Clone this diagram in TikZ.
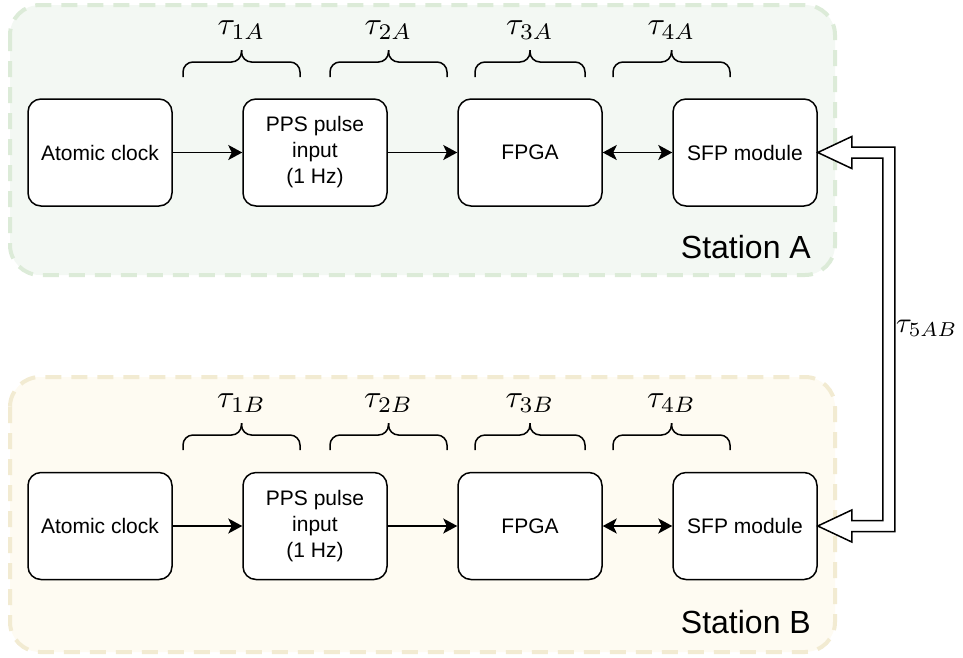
\documentclass[tikz,border=0pt]{standalone}
\usepackage{fontspec}
\setmainfont{Liberation Sans}
\usetikzlibrary{arrows.meta,calc}
\definecolor{gfill}{HTML}{F3F8F3}
\definecolor{gline}{HTML}{DCEBD8}
\definecolor{yfill}{HTML}{FEFBF2}
\definecolor{yline}{HTML}{F2EBD2}
\begin{document}
\begin{tikzpicture}[x=1pt,y=-1pt,
  station/.style={line width=4pt, dash pattern=on 16pt off 10pt, rounded corners=30pt},
  box/.style={draw, line width=1.5pt, rounded corners=13pt, minimum width=144pt,
    minimum height=107pt, fill=white, align=center, inner sep=0pt,
    font=\fontsize{21}{26}\selectfont},
  stlabel/.style={anchor=east, inner sep=0pt, font=\fontsize{32}{38}\selectfont},
  taulbl/.style={inner sep=0pt, scale=3.2},
  conn/.style={line width=1.8pt, -{Stealth[length=14pt,width=15pt,inset=3.5pt]}},
  biconn/.style={line width=1.8pt, {Stealth[length=14pt,width=15pt,inset=3.5pt]}-{Stealth[length=14pt,width=15pt,inset=3.5pt]}},
  brc/.style={line width=1.5pt, rounded corners=10pt},
  flex/.style={draw, fill=white, line width=1.5pt, line join=miter}]
\useasboundingbox (0,0) rectangle (963,657);

% station containers
\path[station, fill=gfill, draw=gline] (10,5) rectangle (835,275);
\path[station, fill=yfill, draw=yline] (10,377) rectangle (835,652);

% Station A
\node[box] (clkA) at (100,152.5) {Atomic clock};
\node[box] (ppsA) at (315,152.5) {PPS pulse\\input\\(1 Hz)};
\node[box] (fpgaA) at (530,152.5) {FPGA};
\node[box] (sfpA) at (745,152.5) {SFP module};
\node[stlabel] (labA) at (811,247) {Station A};
\draw[conn] (clkA) -- (ppsA);
\draw[conn] (ppsA) -- (fpgaA);
\draw[biconn] (fpgaA) -- (sfpA);

% Station B
\node[box] (clkB) at (100,526) {Atomic clock};
\node[box] (ppsB) at (315,526) {PPS pulse\\input\\(1 Hz)};
\node[box] (fpgaB) at (530,526) {FPGA};
\node[box] (sfpB) at (745,526) {SFP module};
\node[stlabel] (labB) at (811,622) {Station B};
\draw[conn] (clkB) -- (ppsB);
\draw[conn] (ppsB) -- (fpgaB);
\draw[biconn] (fpgaB) -- (sfpB);

% braces
\foreach \xa/\xb/\yo in {183/300/0, 330/447/0, 475/585/0, 613/730/0,
                         183/300/373, 330/447/373, 475/585/373, 613/730/373}{
  \pgfmathsetmacro{\xm}{(\xa+\xb)/2}
  \draw[brc] (\xa,77+\yo) -- (\xa,62+\yo) -- (\xm,62+\yo) -- (\xm,50+\yo);
  \draw[brc] (\xb,77+\yo) -- (\xb,62+\yo) -- (\xm,62+\yo) -- (\xm,50+\yo);
}

% tau labels
\node[taulbl] (t1A) at (241.5,30) {$\tau_{1A}$};
\node[taulbl] (t2A) at (388.5,30) {$\tau_{2A}$};
\node[taulbl] (t3A) at (530,30) {$\tau_{3A}$};
\node[taulbl] (t4A) at (671.5,30) {$\tau_{4A}$};
\node[taulbl] (t1B) at (241.5,403) {$\tau_{1B}$};
\node[taulbl] (t2B) at (388.5,403) {$\tau_{2B}$};
\node[taulbl] (t3B) at (530,403) {$\tau_{3B}$};
\node[taulbl] (t4B) at (671.5,403) {$\tau_{4B}$};
\node[taulbl, scale=0.9, anchor=east] (t5) at (958,328) {$\tau_{5AB}$};

% fiber link (double hollow arrow)
\draw[flex] let \p1=(sfpA.east), \p2=(sfpB.east) in
  (\p1) -- (\x1+34pt,\y1+16pt) -- (\x1+34pt,\y1+5.5pt) -- (\x1+77pt,\y1+5.5pt)
  -- (\x1+77pt,\y2-5.5pt) -- (\x1+34pt,\y2-5.5pt) -- (\x1+34pt,\y2-16pt)
  -- (\p2) -- (\x1+34pt,\y2+16pt) -- (\x1+34pt,\y2+5.5pt) -- (\x1+65pt,\y2+5.5pt)
  -- (\x1+65pt,\y1-5.5pt) -- (\x1+34pt,\y1-5.5pt) -- (\x1+34pt,\y1-16pt) -- cycle;
\end{tikzpicture}
\end{document}
